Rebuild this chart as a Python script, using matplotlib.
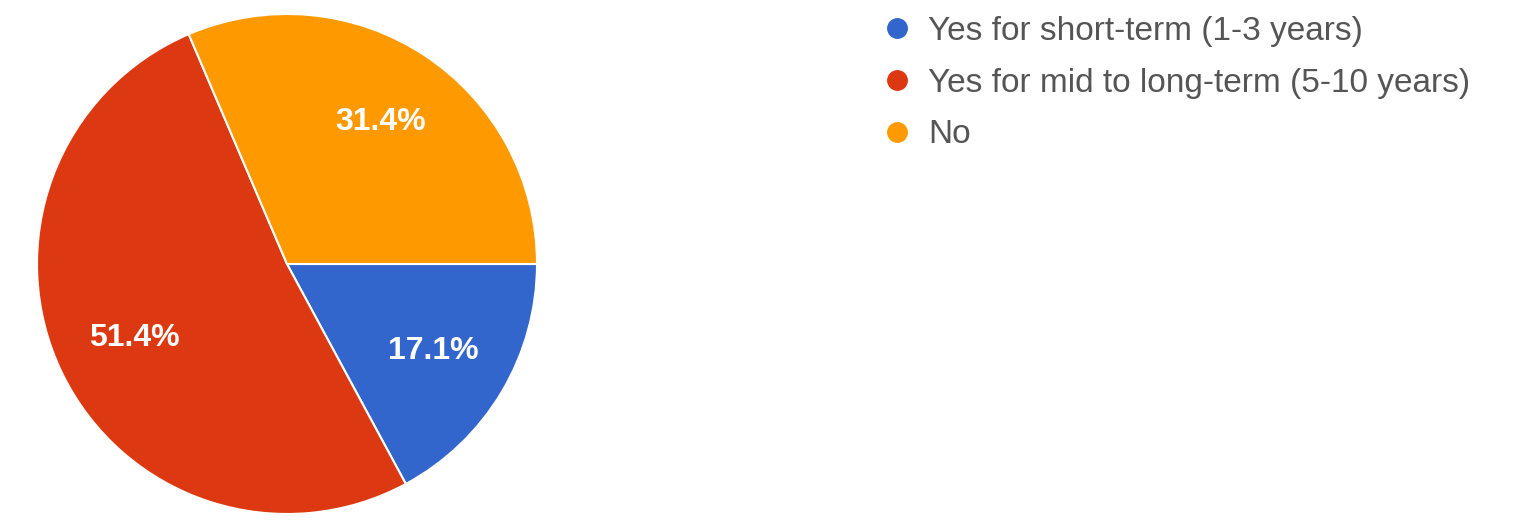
import matplotlib.pyplot as plt
from matplotlib.lines import Line2D

labels = ['Yes for short-term (1-3 years)',
          'Yes for mid to long-term (5-10 years)',
          'No']
shares = [17.1, 51.4, 31.4]
colors = ['#3366cc', '#dc3912', '#ff9900']

plt.rcParams['font.family'] = ['Liberation Sans', 'DejaVu Sans']

fig = plt.figure(figsize=(15.18, 5.21), dpi=100)
ax = fig.add_axes([0, 0, 1, 1])

# show the shares as given (they add up to 99.9, so no renormalising)
pct_text = iter(f'{s:.1f}%' for s in shares)
wedges, texts, autotexts = ax.pie(shares, colors=colors, startangle=0, counterclock=False,
                                  center=(287, 257), radius=250,
                                  autopct=lambda p: next(pct_text),
                                  pctdistance=0.68, frame=True,
                                  wedgeprops=dict(edgecolor='white', linewidth=1.5),
                                  textprops=dict(color='white', fontsize=23, fontweight='bold'))
ax.set_xlim(0, 1518)
ax.set_ylim(0, 521)
ax.set_aspect('equal')
ax.axis('off')

handles = [Line2D([], [], marker='o', linestyle='none', markersize=14,
                  markerfacecolor=c, markeredgecolor=c) for c in colors]
leg = fig.legend(handles, labels, loc='upper left', bbox_to_anchor=(880 / 1518, 1 - 16 / 521),
                 frameon=False, fontsize=24, labelcolor='#555555', handletextpad=0.45,
                 labelspacing=0.62, handlelength=1.0, borderaxespad=0, borderpad=0)

plt.savefig('out.png', dpi=100)
